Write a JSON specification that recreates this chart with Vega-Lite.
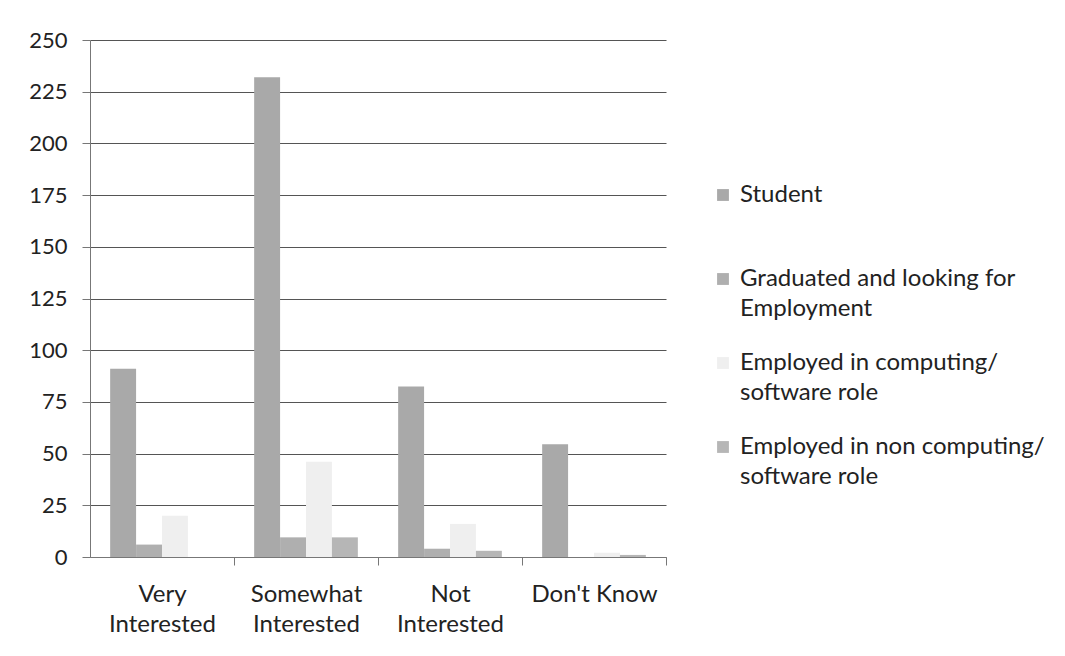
{
  "$schema": "https://vega.github.io/schema/vega-lite/v6.json",
  "width": 576,
  "height": 517,
  "autosize": {"type": "none"},
  "padding": {"left": 90, "top": 40, "right": 399, "bottom": 99},
  "background": "white",
  "data": {
    "values": [
      {"interest": "Very Interested", "status": "Student", "count": 91},
      {"interest": "Very Interested", "status": "Graduated and looking for Employment", "count": 6},
      {"interest": "Very Interested", "status": "Employed in computing/ software role", "count": 20},
      {"interest": "Very Interested", "status": "Employed in non computing/ software role", "count": 0},
      {"interest": "Somewhat Interested", "status": "Student", "count": 232},
      {"interest": "Somewhat Interested", "status": "Graduated and looking for Employment", "count": 9.5},
      {"interest": "Somewhat Interested", "status": "Employed in computing/ software role", "count": 46},
      {"interest": "Somewhat Interested", "status": "Employed in non computing/ software role", "count": 9.5},
      {"interest": "Not Interested", "status": "Student", "count": 82.5},
      {"interest": "Not Interested", "status": "Graduated and looking for Employment", "count": 4},
      {"interest": "Not Interested", "status": "Employed in computing/ software role", "count": 16},
      {"interest": "Not Interested", "status": "Employed in non computing/ software role", "count": 3},
      {"interest": "Don't Know", "status": "Student", "count": 54.5},
      {"interest": "Don't Know", "status": "Graduated and looking for Employment", "count": 0},
      {"interest": "Don't Know", "status": "Employed in computing/ software role", "count": 2},
      {"interest": "Don't Know", "status": "Employed in non computing/ software role", "count": 1}
    ]
  },
  "mark": {"type": "bar"},
  "encoding": {
    "x": {
      "field": "interest",
      "type": "nominal",
      "sort": ["Very Interested", "Somewhat Interested", "Not Interested", "Don't Know"],
      "scale": {"paddingInner": 0.28, "paddingOuter": 0.14},
      "axis": {
        "title": null,
        "labelAngle": 0,
        "labelExpr": "datum.label == \"Don't Know\" ? datum.label : split(datum.label, ' ')",
        "labelLineHeight": 30,
        "labelFont": "Lato",
        "labelFontSize": 24,
        "labelColor": "#222",
        "labelBaseline": "alphabetic",
        "labelPadding": 36,
        "tickOffset": 72,
        "labelOffset": -72,
        "tickSize": 8,
        "tickColor": "#777",
        "domainColor": "#777",
        "grid": false
      }
    },
    "xOffset": {
      "field": "status",
      "type": "nominal",
      "sort": ["Student", "Graduated and looking for Employment", "Employed in computing/ software role", "Employed in non computing/ software role"],
      "scale": {"paddingInner": 0, "paddingOuter": 0}
    },
    "y": {
      "field": "count",
      "type": "quantitative",
      "scale": {"domain": [0, 250], "nice": false},
      "axis": {
        "title": null,
        "values": [0, 25, 50, 75, 100, 125, 150, 175, 200, 225, 250],
        "labelFont": "Lato",
        "labelFontSize": 22,
        "labelColor": "#222",
        "labelPadding": 15,
        "tickSize": 8,
        "tickColor": "#777",
        "domainColor": "#777",
        "gridColor": "#555",
        "gridWidth": 1
      }
    },
    "color": {
      "field": "status",
      "type": "nominal",
      "sort": ["Student", "Graduated and looking for Employment", "Employed in computing/ software role", "Employed in non computing/ software role"],
      "scale": {
        "domain": ["Student", "Graduated and looking for Employment", "Employed in computing/ software role", "Employed in non computing/ software role"],
        "range": ["#a9a9a9", "#afafaf", "#efefef", "#b6b6b6"]
      },
      "legend": {
        "title": null,
        "orient": "none",
        "legendX": 621,
        "legendY": 143,
        "symbolType": "square",
        "symbolSize": 140,
        "symbolStrokeWidth": 0,
        "labelFont": "Lato",
        "labelFontSize": 24,
        "labelColor": "#222",
        "labelLimit": 400,
        "labelOffset": 5,
        "rowPadding": 30,
        "labelExpr": "datum.label == 'Student' ? ['Student', ' '] : datum.label == 'Graduated and looking for Employment' ? ['Graduated and looking for', 'Employment'] : datum.label == 'Employed in computing/ software role' ? ['Employed in computing/', 'software role'] : ['Employed in non computing/', 'software role']",
        "encode": {
          "labels": {"update": {"lineHeight": {"value": 30}}}
        }
      }
    }
  },
  "config": {
    "view": {"stroke": null},
    "font": "Lato"
  }
}
